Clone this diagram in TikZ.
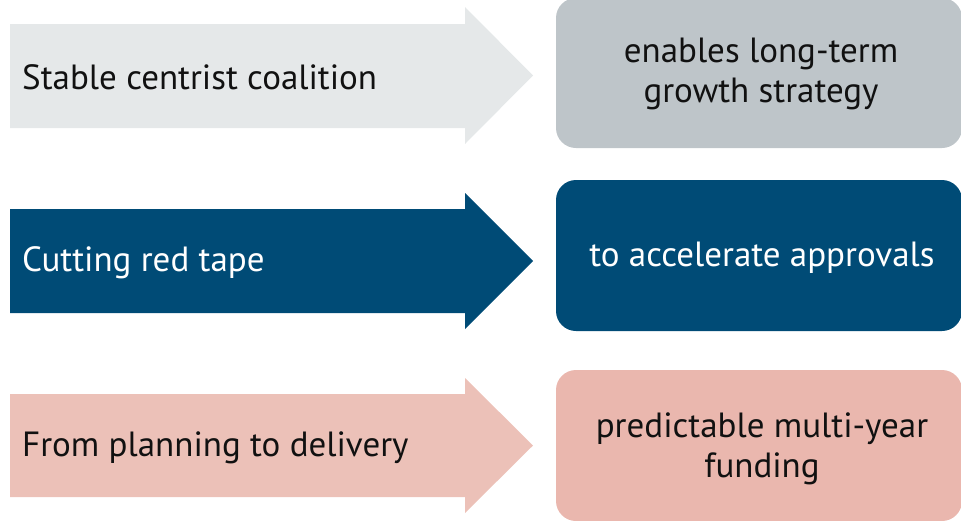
\documentclass[tikz,border=0pt]{standalone}
\usepackage{fontspec}
\setmainfont{PT Sans}
\definecolor{grayarrow}{RGB}{229,232,233}
\definecolor{graybox}{RGB}{190,197,201}
\definecolor{bluedark}{RGB}{0,75,118}
\definecolor{pinkarrow}{RGB}{236,193,184}
\definecolor{pinkbox}{RGB}{234,183,174}
\definecolor{inkblack}{RGB}{17,17,17}
\begin{document}
\begin{tikzpicture}[x=1pt,y=-1pt,
  lbl/.style={anchor=west,inner sep=0pt,font=\fontsize{35}{40}\selectfont},
  boxstyle/.style={rounded corners=20pt,inner sep=0pt,align=center,font=\fontsize{35}{40}\selectfont},
]
\useasboundingbox (0,0) rectangle (961,520);
% arrows
\fill[grayarrow] (10,24) -- (465,24) -- (465,7) -- (533,75.5) -- (465,144) -- (465,128) -- (10,128) -- cycle;
\fill[bluedark] (10,209) -- (465,209) -- (465,193) -- (533,261) -- (465,329) -- (465,313) -- (10,313) -- cycle;
\fill[pinkarrow] (10,394) -- (465,394) -- (465,378) -- (533,445.5) -- (465,513) -- (465,497) -- (10,497) -- cycle;
\node[lbl,text=inkblack] (a1) at (22,77) {Stable centrist coalition};
\node[lbl,text=white] (a2) at (22,263) {Cutting red tape};
\node[lbl,text=inkblack] (a3) at (22,448) {From planning to delivery};
% boxes
\path[fill=graybox,rounded corners=20pt] (556,-2) rectangle (962,148);
\path[fill=bluedark,rounded corners=20pt] (556,180) rectangle (962,331);
\path[fill=pinkbox,rounded corners=20pt] (556,370) rectangle (962,521);
\node[boxstyle,text=inkblack] (b1) at (761,74) {enables long-term\\growth strategy};
\node[boxstyle,text=white] (b2) at (762,258) {to accelerate approvals};
\node[boxstyle,text=inkblack] (b3) at (762,449) {predictable multi-year\\funding};
\end{tikzpicture}
\end{document}
